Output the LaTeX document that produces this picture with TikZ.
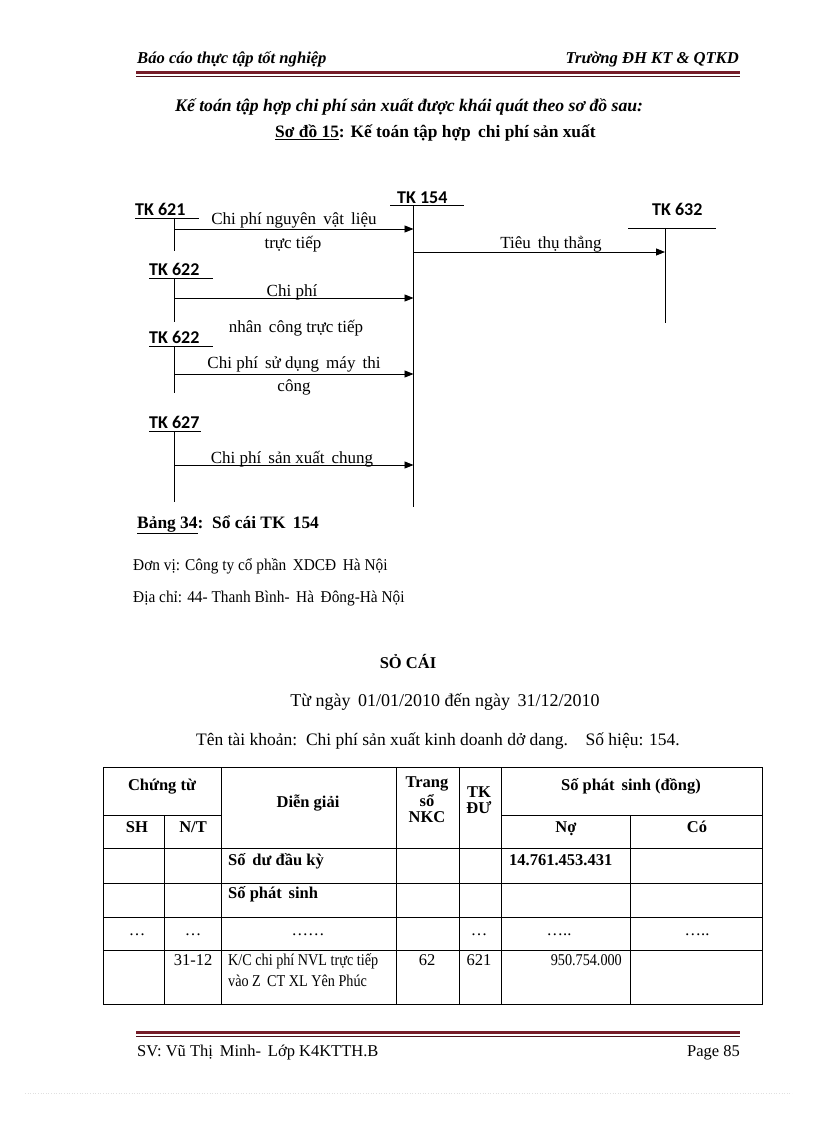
\documentclass[tikz,border=0pt]{standalone}
\usepackage{fontspec}
\setmainfont{Liberation Serif}
\newfontfamily\tkfont{Carlito}
\newfontfamily\narrowfont[FakeStretch=0.86]{Liberation Serif}
\newfontfamily\midfont[FakeStretch=0.93]{Liberation Serif}
\usetikzlibrary{arrows.meta}
\definecolor{hdrred}{RGB}{118,28,40}
\begin{document}
\begin{tikzpicture}[x=1pt,y=-1pt,
  txt/.style={inner sep=0pt,anchor=base,font=\fontsize{17}{19}\selectfont},
  tk/.style={inner sep=0pt,anchor=base west,font=\tkfont\bfseries\fontsize{18}{20}\selectfont},
  acct/.style={line width=0.8pt},
  flow/.style={line width=0.8pt,-{Triangle[length=9pt,width=7pt]}},
  grid/.style={line width=0.8pt},
  cell/.style={inner sep=0pt,anchor=base,font=\fontsize{16.5}{18}\selectfont},
  cellb/.style={inner sep=0pt,anchor=base,font=\bfseries\fontsize{16.5}{18}\selectfont},
  rule/.style={line width=3pt,hdrred},
  thin/.style={line width=0.8pt,hdrred!60!black}]
\useasboundingbox (0,0) rectangle (816,1123);
\fill[white] (0,0) rectangle (816,1123);

% ---------- header ----------
\node[inner sep=0pt,anchor=base west,font=\bfseries\itshape\fontsize{16.6}{18}\selectfont] (hl) at (137,64) {Báo cáo thực tập tốt nghiệp};
\node[inner sep=0pt,anchor=base east,font=\bfseries\itshape\fontsize{16.6}{18}\selectfont] (hr) at (739,64) {Trường ĐH KT \& QTKD};
\coordinate (h1) at (136,72.5); \coordinate (h2) at (740,72.5);
\draw[rule] (h1) -- (h2);
\coordinate (h3) at (136,76); \coordinate (h4) at (740,76);
\draw[thin] (h3) -- (h4);

% ---------- titles ----------
\node[inner sep=0pt,anchor=base west,font=\bfseries\itshape\fontsize{17.7}{19}\selectfont] (t1) at (175,112) {Kế toán tập hợp chi phí sản xuất được khái quát theo sơ đồ sau:};
\node[inner sep=0pt,anchor=base west,font=\bfseries\fontsize{17.4}{19}\selectfont] (t2) at (275,138) {\underline{Sơ đồ 15}: Kế toán tập hợp\, chi phí sản xuất};

% ---------- diagram ----------
% TK 621
\node[tk] (tk621) at (135,215) {TK 621};
\coordinate (u621a) at (135,218); \coordinate (u621b) at (199,218);
\draw[acct] (u621a) -- (u621b);
\coordinate (v621a) at (174,218); \coordinate (v621b) at (174,251);
\draw[acct] (v621a) -- (v621b);
% TK 154
\node[tk] (tk154) at (397,204) {TK 154};
\coordinate (u154a) at (390,205.5); \coordinate (u154b) at (464,205.5);
\draw[acct] (u154a) -- (u154b);
\coordinate (v154a) at (413.5,205.5); \coordinate (v154b) at (413.5,507);
\draw[acct] (v154a) -- (v154b);
% TK 632
\node[tk] (tk632) at (652,215) {TK 632};
\coordinate (u632a) at (628,228); \coordinate (u632b) at (716,228);
\draw[acct] (u632a) -- (u632b);
\coordinate (v632a) at (665,228); \coordinate (v632b) at (665,323);
\draw[acct] (v632a) -- (v632b);
% TK 622 (1)
\node[tk] (tk622a) at (149,275) {TK 622};
\coordinate (u622a1) at (149,278); \coordinate (u622a2) at (213,278);
\draw[acct] (u622a1) -- (u622a2);
\coordinate (v622a1) at (174,278); \coordinate (v622a2) at (174,322);
\draw[acct] (v622a1) -- (v622a2);
% TK 622 (2)
\node[tk] (tk622b) at (149,343) {TK 622};
\coordinate (u622b1) at (149,346); \coordinate (u622b2) at (213,346);
\draw[acct] (u622b1) -- (u622b2);
\coordinate (v622b1) at (174,346); \coordinate (v622b2) at (174,393);
\draw[acct] (v622b1) -- (v622b2);
% TK 627
\node[tk] (tk627) at (149,428) {TK 627};
\coordinate (u627a) at (149,431); \coordinate (u627b) at (201,431);
\draw[acct] (u627a) -- (u627b);
\coordinate (v627a) at (174,431); \coordinate (v627b) at (174,502);
\draw[acct] (v627a) -- (v627b);

% flows
\coordinate (f1a) at (174,229); \coordinate (f1b) at (413.5,229);
\draw[flow] (f1a) -- (f1b);
\coordinate (f2a) at (174,298); \coordinate (f2b) at (413.5,298);
\draw[flow] (f2a) -- (f2b);
\coordinate (f3a) at (174,374); \coordinate (f3b) at (413.5,374);
\draw[flow] (f3a) -- (f3b);
\coordinate (f4a) at (174,465); \coordinate (f4b) at (413.5,465);
\draw[flow] (f4a) -- (f4b);
\coordinate (f5a) at (413.5,252); \coordinate (f5b) at (665,252);
\draw[flow] (f5a) -- (f5b);

\node[txt] (l1a) at (294,225) {Chi phí nguyên\, vật\, liệu};
\node[txt] (l1b) at (293,248) {trực tiếp};
\node[txt] (l2a) at (292,296) {Chi phí};
\node[txt] (l2b) at (296,332) {nhân\, công trực tiếp};
\node[txt] (l3a) at (294,368) {Chi phí\, sử dụng\, máy\, thi};
\node[txt] (l3b) at (294,391) {công};
\node[txt] (l4) at (292,463) {Chi phí\, sản xuất\, chung};
\node[txt] (l5) at (551,248) {Tiêu\, thụ thẳng};

% ---------- ledger info ----------
\node[inner sep=0pt,anchor=base west,font=\bfseries\fontsize{17.4}{19}\selectfont] (b34) at (137,528) {\underline{Bảng 34}:\ \ Sổ cái TK\, 154};
\node[inner sep=0pt,anchor=base west,font=\midfont\fontsize{16.5}{19}\selectfont] (dv) at (133,570) {Đơn vị: Công ty cổ phần\, XDCĐ\, Hà Nội};
\node[inner sep=0pt,anchor=base west,font=\midfont\fontsize{16.5}{19}\selectfont] (dc) at (133,602) {Địa chỉ: 44- Thanh Bình-\, Hà\, Đông-Hà Nội};

\node[inner sep=0pt,anchor=base,font=\bfseries\fontsize{16.5}{19}\selectfont] (sc) at (408,668) {SỎ CÁI};
\node[inner sep=0pt,anchor=base,font=\fontsize{18}{20}\selectfont] (tn) at (445,706) {Từ ngày\, 01/01/2010 đến ngày\, 31/12/2010};
\node[inner sep=0pt,anchor=base,font=\fontsize{17.5}{20}\selectfont] (ttk) at (438,745) {Tên tài khoản:\, Chi phí sản xuất kinh doanh dở dang.\quad Số hiệu: 154.};

% ---------- table ----------
\coordinate (tl) at (103.5,767); \coordinate (br) at (762.5,1004);
\draw[grid] (tl) rectangle (br);
% vertical lines
\coordinate (c1t) at (164,815); \coordinate (c1b) at (164,1004);
\draw[grid] (c1t) -- (c1b);
\coordinate (c2t) at (221,767); \coordinate (c2b) at (221,1004);
\draw[grid] (c2t) -- (c2b);
\coordinate (c3t) at (396,767); \coordinate (c3b) at (396,1004);
\draw[grid] (c3t) -- (c3b);
\coordinate (c4t) at (459,767); \coordinate (c4b) at (459,1004);
\draw[grid] (c4t) -- (c4b);
\coordinate (c5t) at (501,767); \coordinate (c5b) at (501,1004);
\draw[grid] (c5t) -- (c5b);
\coordinate (c6t) at (630,815); \coordinate (c6b) at (630,1004);
\draw[grid] (c6t) -- (c6b);
% horizontal lines
\coordinate (r0a) at (103.5,815); \coordinate (r0b) at (221,815);
\draw[grid] (r0a) -- (r0b);
\coordinate (r0c) at (501,815); \coordinate (r0d) at (762.5,815);
\draw[grid] (r0c) -- (r0d);
\coordinate (r1a) at (103.5,848); \coordinate (r1b) at (762.5,848);
\draw[grid] (r1a) -- (r1b);
\coordinate (r2a) at (103.5,883); \coordinate (r2b) at (762.5,883);
\draw[grid] (r2a) -- (r2b);
\coordinate (r3a) at (103.5,917); \coordinate (r3b) at (762.5,917);
\draw[grid] (r3a) -- (r3b);
\coordinate (r4a) at (103.5,950); \coordinate (r4b) at (762.5,950);
\draw[grid] (r4a) -- (r4b);

% header cells
\node[cellb] (hct) at (162,790) {Chứng từ};
\node[cellb] (hsh) at (137,832) {SH};
\node[cellb] (hnt) at (193,832) {N/T};
\node[cellb] (hdg) at (308,807) {Diễn giải};
\node[cellb] (htr1) at (427,787) {Trang};
\node[cellb] (htr2) at (427,806) {sổ};
\node[cellb] (htr3) at (427,822) {NKC};
\node[cellb] (htk1) at (479,797) {TK};
\node[cellb] (htk2) at (479,813) {ĐƯ};
\node[cellb] (hps) at (631,790) {Số phát\, sinh (đồng)};
\node[cellb] (hno) at (566,832) {Nợ};
\node[cellb] (hco) at (697,832) {Có};

% rows
\node[cellb,anchor=base west] (rdk) at (228,865) {Số\, dư đầu kỳ};
\node[cellb,anchor=base west] (rdkv) at (509,865) {14.761.453.431};
\node[cellb,anchor=base west] (rps) at (228,898) {Số phát\, sinh};
\node[cell] (d1) at (137,935) {\dots};
\node[cell] (d2) at (193,935) {\dots};
\node[cell] (d3) at (308,935) {\dots\dots};
\node[cell] (d4) at (479,935) {\dots};
\node[cell] (d5) at (559,935) {\dots..};
\node[cell] (d6) at (697,935) {\dots..};
\node[cell] (r4nt) at (193,965) {31-12};
\node[cell,anchor=base west,font=\narrowfont\fontsize{16.5}{18}\selectfont] (r4dg1) at (228,965) {K/C chi phí NVL trực tiếp};
\node[cell,anchor=base west,font=\narrowfont\fontsize{16.5}{18}\selectfont] (r4dg2) at (228,986) {vào Z\, CT XL Yên Phúc};
\node[cell] (r4tr) at (427,965) {62};
\node[cell] (r4tk) at (479,965) {621};
\node[cell,anchor=base east,font=\narrowfont\fontsize{16.5}{18}\selectfont] (r4no) at (622,965) {950.754.000};

% ---------- footer ----------
\coordinate (ft1) at (136,1032.5); \coordinate (ft2) at (740,1032.5);
\draw[rule] (ft1) -- (ft2);
\coordinate (ft3) at (136,1036.5); \coordinate (ft4) at (740,1036.5);
\draw[thin] (ft3) -- (ft4);
\node[inner sep=0pt,anchor=base west,font=\fontsize{16.5}{19}\selectfont] (fl) at (137,1056) {SV: Vũ Thị\, Minh-\, Lớp K4KTTH.B};
\node[inner sep=0pt,anchor=base east,font=\fontsize{16.5}{19}\selectfont] (fr) at (740,1056) {Page 85};

\coordinate (dl1) at (25,1093); \coordinate (dl2) at (792,1093);
\draw[black!12,dotted,line width=0.6pt] (dl1) -- (dl2);
\end{tikzpicture}
\end{document}
